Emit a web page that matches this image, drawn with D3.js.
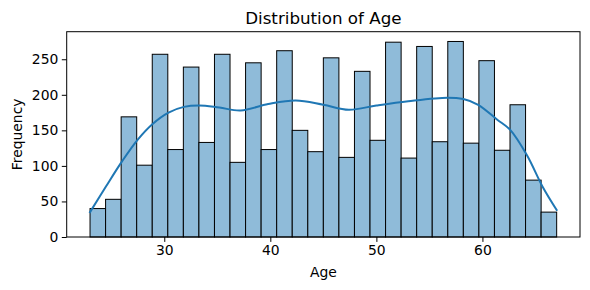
<!DOCTYPE html>
<html>
<head>
<meta charset="utf-8">
<script src="https://cdn.jsdelivr.net/npm/d3@7"></script>
<style>
    body { margin: 0; background: #fff; }
    svg { font-family: "DejaVu Sans", sans-serif; }
</style>
</head>
<body>
<script>
// Histogram bins (30 bins from 23 to 67) and their counts.
const binStart = 23;
const binEnd = 67;
const counts = [40, 53, 169, 101, 257, 123, 239, 133, 257, 105,
                245, 123, 262, 150, 120, 252, 112, 233, 136, 274,
                111, 268, 134, 275, 132, 248, 122, 186, 80, 35];

// KDE curve (age, scaled density).
const kdeAge = [23, 24.5, 26, 27.5, 28.9, 30.4, 31.85, 33.3, 35.2, 37.2, 39.8, 42.4, 45, 47.4, 50, 53, 56.7, 58.2, 59.6, 61.4, 62.6, 64.2, 65.7, 67];
const kdeVal = [35, 71, 106, 137, 159, 175, 183, 185, 182, 178, 187, 192, 186, 179, 185, 191, 196, 194, 186, 165, 151, 115, 70, 38];

const xTicks = [30, 40, 50, 60];
const yTicks = [0, 50, 100, 150, 200, 250];

// Chart dimensions.
const width = 590;
const height = 290;
const marginTop = 31.7;
const marginRight = 10;
const marginBottom = 53;
const marginLeft = 66.7;

const svg = d3.select("body")
    .append("svg")
        .attr("width", width)
        .attr("height", height);

const pad = (binEnd - binStart) * 0.05;
const x = d3.scaleLinear()
    .domain([binStart - pad, binEnd + pad])
    .range([marginLeft, width - marginRight]);

const y = d3.scaleLinear()
    .domain([0, d3.max(counts) * 1.05])
    .range([height - marginBottom, marginTop]);

const binWidth = (binEnd - binStart) / counts.length;
const bins = counts.map((c, i) => ({ x0: binStart + i * binWidth, x1: binStart + (i + 1) * binWidth, count: c }));

// Bars.
svg.append("g")
    .selectAll("rect")
    .data(bins)
    .join("rect")
        .attr("x", d => x(d.x0))
        .attr("y", d => y(d.count))
        .attr("width", d => x(d.x1) - x(d.x0))
        .attr("height", d => y(0) - y(d.count))
        .attr("fill", "#8fbbd9")
        .attr("stroke", "#000")
        .attr("stroke-width", 1);

// KDE line.
const kde = kdeAge.map((a, i) => [a, kdeVal[i]]);
svg.append("path")
    .datum(kde)
    .attr("fill", "none")
    .attr("stroke", "#1f77b4")
    .attr("stroke-width", 2)
    .attr("stroke-linecap", "square")
    .attr("d", d3.line()
        .x(d => x(d[0]))
        .y(d => y(d[1]))
        .curve(d3.curveCatmullRom));

// Axes.
const xAxis = svg.append("g")
    .attr("transform", `translate(0,${height - marginBottom})`)
    .call(d3.axisBottom(x).tickValues(xTicks).tickSize(4.9).tickPadding(3.5).tickSizeOuter(0));
const yAxis = svg.append("g")
    .attr("transform", `translate(${marginLeft},0)`)
    .call(d3.axisLeft(y).tickValues(yTicks).tickSize(4.9).tickPadding(3.5).tickSizeOuter(0));

for (const g of [xAxis, yAxis]) {
    g.select(".domain").remove();
    g.selectAll("text").attr("font-size", 13.9).attr("font-family", "DejaVu Sans").attr("fill", "#000");
    g.selectAll("line").attr("stroke", "#000").attr("stroke-width", 1);
}

// Frame.
svg.append("rect")
    .attr("x", marginLeft)
    .attr("y", marginTop)
    .attr("width", width - marginRight - marginLeft)
    .attr("height", height - marginBottom - marginTop)
    .attr("fill", "none")
    .attr("stroke", "#000")
    .attr("stroke-width", 1);

// Title and labels.
svg.append("text")
    .attr("x", (marginLeft + width - marginRight) / 2)
    .attr("y", 24)
    .attr("text-anchor", "middle")
    .style("font-size", "16.7px")
    .text("Distribution of Age");

svg.append("text")
    .attr("x", (marginLeft + width - marginRight) / 2)
    .attr("y", 277)
    .attr("text-anchor", "middle")
    .style("font-size", "13.9px")
    .text("Age");

svg.append("text")
    .attr("transform", `translate(22,${(marginTop + height - marginBottom) / 2}) rotate(-90)`)
    .attr("text-anchor", "middle")
    .style("font-size", "13.9px")
    .text("Frequency");
</script>
</body>
</html>
